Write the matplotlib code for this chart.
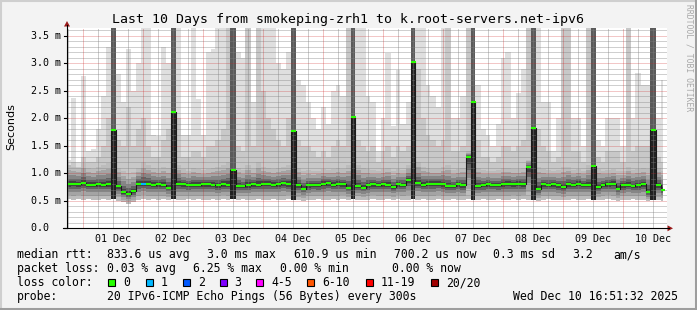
import numpy as np
import matplotlib
matplotlib.use("Agg")
import matplotlib.pyplot as plt
import matplotlib.transforms as mtransforms
from matplotlib.lines import Line2D
from matplotlib.patches import Rectangle, Polygon

W, H = 697, 310

# one smoke column every 2 h, first one at 30 Nov 18:00 (hours from 01 Dec 00:00)
first_hour = -6
step_hours = 2

# median rtt per column (ms)
median = [0.80, 0.81, 0.80, 0.82, 0.79, 0.79, 0.80, 0.79, 0.80, 1.79,
          0.76, 0.66, 0.62, 0.67, 0.81, 0.81, 0.81, 0.79, 0.80, 0.79,
          0.74, 2.11, 0.81, 0.80, 0.78, 0.79, 0.79, 0.80, 0.80, 0.79,
          0.78, 0.80, 0.79, 1.06, 0.77, 0.76, 0.78, 0.80, 0.79, 0.81,
          0.81, 0.79, 0.80, 0.82, 0.80, 1.76, 0.78, 0.72, 0.78, 0.79,
          0.78, 0.81, 0.82, 0.79, 0.81, 0.80, 0.74, 2.02, 0.77, 0.74,
          0.78, 0.80, 0.79, 0.80, 0.79, 0.75, 0.80, 0.79, 0.87, 3.03,
          0.82, 0.79, 0.81, 0.81, 0.81, 0.80, 0.76, 0.76, 0.80, 0.78,
          1.29, 2.29, 0.77, 0.78, 0.80, 0.79, 0.78, 0.80, 0.81, 0.80,
          0.81, 0.80, 1.11, 1.82, 0.71, 0.80, 0.79, 0.80, 0.78, 0.75,
          0.80, 0.79, 0.81, 0.79, 0.79, 1.13, 0.75, 0.79, 0.80, 0.81,
          0.72, 0.78, 0.79, 0.77, 0.78, 0.80, 0.66, 1.79, 0.78, 0.70]

# fastest ping (bottom of the smoke)
low = [0.53, 0.52, 0.53, 0.52, 0.53, 0.52, 0.52, 0.53, 0.52, 0.53,
       0.50, 0.47, 0.45, 0.47, 0.52, 0.53, 0.52, 0.53, 0.52, 0.53,
       0.52, 0.53, 0.52, 0.52, 0.53, 0.52, 0.53, 0.52, 0.52, 0.53,
       0.52, 0.53, 0.52, 0.53, 0.52, 0.53, 0.52, 0.52, 0.53, 0.52,
       0.52, 0.53, 0.52, 0.52, 0.53, 0.52, 0.51, 0.50, 0.52, 0.52,
       0.53, 0.52, 0.52, 0.53, 0.52, 0.53, 0.52, 0.53, 0.52, 0.51,
       0.52, 0.53, 0.52, 0.52, 0.53, 0.52, 0.53, 0.52, 0.52, 0.53,
       0.52, 0.53, 0.52, 0.52, 0.53, 0.52, 0.52, 0.53, 0.52, 0.52,
       0.53, 0.52, 0.52, 0.53, 0.52, 0.52, 0.53, 0.52, 0.52, 0.53,
       0.52, 0.53, 0.52, 0.51, 0.50, 0.52, 0.53, 0.52, 0.52, 0.51,
       0.52, 0.53, 0.52, 0.52, 0.53, 0.52, 0.51, 0.52, 0.53, 0.52,
       0.50, 0.52, 0.52, 0.53, 0.52, 0.52, 0.49, 0.52, 0.51, 0.50]

# top of the dense smoke (above the graph top where most pings were slow)
band = [1.15, 1.12, 1.10, 1.18, 1.10, 1.08, 1.12, 1.15, 1.18, 4.00,
        1.10, 1.05, 1.00, 1.02, 1.10, 1.20, 1.15, 1.10, 1.08, 1.12,
        1.10, 4.00, 1.15, 1.08, 1.05, 1.10, 1.08, 1.06, 1.08, 1.10,
        1.12, 1.15, 1.20, 4.00, 1.10, 1.06, 1.15, 1.08, 1.20, 1.12,
        1.10, 1.08, 1.10, 1.12, 1.15, 4.00, 1.10, 1.05, 1.06, 1.04,
        1.05, 1.08, 1.06, 1.08, 1.10, 1.08, 1.15, 4.00, 1.15, 1.10,
        1.08, 1.06, 1.05, 1.08, 1.10, 1.05, 1.08, 1.06, 1.15, 4.00,
        1.20, 1.12, 1.10, 1.08, 1.08, 1.12, 1.15, 1.06, 1.08, 1.10,
        1.40, 4.00, 1.10, 1.06, 1.05, 1.05, 1.06, 1.10, 1.10, 1.08,
        1.08, 1.10, 1.25, 4.00, 1.12, 1.08, 1.06, 1.05, 1.06, 1.12,
        1.12, 1.06, 1.08, 1.05, 1.15, 4.00, 1.08, 1.05, 1.06, 1.08,
        1.05, 1.04, 1.12, 1.06, 1.08, 1.10, 1.08, 4.00, 1.10, 1.05]

# second slowest ping
high2 = [1.15, 1.20, 1.12, 1.30, 1.20, 1.20, 1.30, 1.50, 2.00, 4.00,
         1.60, 1.50, 2.20, 1.50, 1.80, 2.00, 1.50, 1.30, 1.30, 1.60,
         1.80, 4.00, 2.00, 1.30, 1.30, 1.40, 1.40, 1.30, 1.50, 1.50,
         1.60, 1.80, 3.70, 4.00, 1.50, 1.40, 3.70, 1.50, 3.70, 2.50,
         2.00, 1.80, 1.60, 1.50, 2.00, 4.00, 1.60, 1.50, 1.50, 1.40,
         1.30, 1.40, 1.30, 1.50, 1.60, 1.50, 3.70, 4.00, 1.60, 1.50,
         1.40, 1.50, 1.20, 1.40, 1.50, 1.30, 1.50, 1.40, 1.50, 4.00,
         2.90, 2.00, 1.70, 1.60, 1.50, 1.60, 3.70, 1.40, 1.40, 1.50,
         3.70, 4.00, 1.60, 1.30, 1.30, 1.20, 1.30, 1.50, 1.50, 1.40,
         1.50, 1.60, 3.70, 4.00, 1.80, 1.50, 1.40, 1.20, 1.30, 3.70,
         3.70, 1.40, 1.40, 1.20, 3.70, 4.00, 1.30, 1.20, 1.40, 1.40,
         1.40, 1.20, 3.70, 1.40, 1.50, 1.50, 1.50, 4.00, 1.30, 1.20]

# slowest ping
high = [1.25, 2.37, 1.20, 2.77, 1.40, 1.45, 1.80, 2.40, 3.30, 4.00,
        2.80, 2.30, 3.25, 2.50, 3.00, 3.70, 3.70, 1.70, 1.67, 3.30,
        3.00, 4.00, 3.70, 1.70, 1.70, 3.70, 2.35, 1.70, 3.20, 3.25,
        3.70, 3.70, 3.70, 4.00, 3.20, 3.10, 3.70, 2.30, 3.70, 3.70,
        3.70, 3.70, 3.00, 2.90, 3.20, 4.00, 2.70, 2.60, 2.30, 2.00,
        1.80, 2.20, 1.90, 2.50, 2.60, 2.40, 4.00, 4.00, 3.70, 3.70,
        2.40, 2.30, 1.40, 2.00, 3.18, 1.85, 2.88, 1.90, 2.30, 4.00,
        3.70, 3.70, 2.60, 2.40, 2.20, 3.70, 3.70, 2.00, 2.00, 2.40,
        4.00, 4.00, 2.60, 1.80, 1.70, 1.50, 1.90, 3.10, 3.20, 2.00,
        2.46, 2.90, 4.00, 4.00, 3.70, 2.30, 2.30, 1.40, 2.00, 3.70,
        3.70, 2.00, 2.00, 1.50, 3.70, 4.00, 1.60, 1.50, 2.00, 2.00,
        2.00, 1.50, 3.70, 2.00, 2.82, 2.60, 2.60, 4.00, 2.00, 2.70]

# lost pings per column (all others 0)
lost = {15: 1}

day_labels = ["01 Dec", "02 Dec", "03 Dec", "04 Dec", "05 Dec",
              "06 Dec", "07 Dec", "08 Dec", "09 Dec", "10 Dec"]
y_ticks = [0.0, 0.5, 1.0, 1.5, 2.0, 2.5, 3.0, 3.5]
y_tick_labels = ["0.0  ", "0.5 m", "1.0 m", "1.5 m", "2.0 m", "2.5 m", "3.0 m", "3.5 m"]

loss_names = ["0", "1", "2", "3", "4-5", "6-10", "11-19", "20/20"]
loss_colors = ["#26ff00", "#00b8ff", "#0059ff", "#7e00ff",
               "#ff00ff", "#ff5500", "#ff0000", "#a10000"]

mono = "DejaVu Sans Mono"
top = 3.64
t0 = -6.4 / 24   # left edge of the graph in days from 01 Dec

med = np.array(median)
lo = np.array(low)
bd = np.array(band)
h2 = np.array(high2)
h1 = np.array(high)
t = (first_hour + step_hours * np.arange(len(med))) / 24.0
spike = bd > top


def px(x, y):
    return x / W, 1 - y / H


def loss_color(n):
    if n <= 3:
        return loss_colors[n]
    if n <= 5:
        return loss_colors[4]
    if n <= 10:
        return loss_colors[5]
    if n < 20:
        return loss_colors[6]
    return loss_colors[7]


fig = plt.figure(figsize=(W / 100, H / 100), dpi=100, facecolor="#f3f3f3")
ax = fig.add_axes([67 / W, 1 - 228.3 / H, 600 / W, 200.3 / H])
ax.set_facecolor("white")
ax.set_xlim(t0, t0 + 10)
ax.set_ylim(0, top)
for s in ax.spines.values():
    s.set_visible(False)
ax.set_xticks([])
ax.set_yticks([])

# smoke
ax.fill_between(t, lo, h1, step="mid", color="#dfdfdf", lw=0, zorder=1)
ax.fill_between(t, lo, h2, step="mid", color="#c8c8c8", lw=0, zorder=1)
for f, c in [(1.0, "#bcbcbc"), (0.75, "#a4a4a4"), (0.5, "#868686"),
             (0.3, "#626262"), (0.15, "#424242")]:
    ax.fill_between(t, med - (med - lo) * f, med + (bd - med) * f,
                    step="mid", color=c, lw=0, zorder=1)
ax.fill_between(t, lo, np.where(spike, 4.0, lo), step="mid", color="#5a5a5a", lw=0, zorder=1)
ax.fill_between(t, lo, np.where(spike, med, lo), step="mid", color="#222222", lw=0, zorder=1)

# grid, dotted like rrdtool
minor_x = [d / 4 for d in range(-1, 40) if d % 4 != 0]
minor_y = [v / 10 for v in range(1, 37) if v % 5 != 0]
for x in minor_x:
    ax.axvline(x, color="#808080", alpha=0.8, lw=0.72, ls=(0, (1, 1)), zorder=2)
for y in minor_y:
    ax.axhline(y, color="#808080", alpha=0.75, lw=0.72, ls=(0, (1, 1)), zorder=2)
for x in range(10):
    ax.axvline(x, color="#cc2222", alpha=0.55, lw=0.72, ls=(0, (1, 1)), zorder=2)
for y in [0.5, 1.0, 1.5, 2.0, 2.5, 3.0, 3.5]:
    ax.axhline(y, color="#cc2222", alpha=0.5, lw=0.72, ls=(0, (1, 1)), zorder=2)

# median line
ax.plot(t, med, drawstyle="steps-mid", color="#1a1a1a", lw=0.8, zorder=3)
cols = [loss_color(lost.get(i, 0)) for i in range(len(med))]
ax.hlines(med, t - step_hours / 48, t + step_hours / 48, colors=cols, lw=1.5, zorder=4)

# axes with arrows
fig.add_artist(Line2D(*zip(px(67, 228.3), px(67, 25)), color="black", lw=0.8))
fig.add_artist(Line2D(*zip(px(63, 228.3), px(669, 228.3)), color="black", lw=0.8))
fig.add_artist(Polygon([px(64, 26.5), px(70, 26.5), px(67, 21)], closed=True,
                       transform=fig.transFigure, color="#9b1b1b", lw=0))
fig.add_artist(Polygon([px(667.5, 225.3), px(667.5, 231.3), px(673, 228.3)], closed=True,
                       transform=fig.transFigure, color="#9b1b1b", lw=0))

# y ticks
ytr = mtransforms.blended_transform_factory(fig.transFigure, ax.transData)
for v, lab in zip(y_ticks, y_tick_labels):
    fig.text(30.7 / W, v, lab, transform=ytr, family=mono, fontsize=7.2, va="center", ha="left")
    fig.add_artist(Line2D([63.5 / W, 67 / W], [v, v], transform=ytr, color="black", lw=0.8))

# x labels, centred on noon
xtr = mtransforms.blended_transform_factory(ax.transData, fig.transFigure)
for d, lab in enumerate(day_labels):
    fig.text(d + 0.5, 1 - 241.7 / H, lab, transform=xtr, family=mono, fontsize=7.2,
             ha="center", va="baseline")

fig.text(*px(347.7, 23.5), "Last 10 Days from smokeping-zrh1 to k.root-servers.net-ipv6",
         family=mono, fontsize=9.55, ha="center", va="baseline")
fig.text(*px(11, 127), "Seconds", rotation=90, fontsize=8, ha="center", va="center")
fig.text(*px(688.5, 58), "RRDTOOL / TOBI OETIKER", rotation=270, family=mono,
         fontsize=5.8, color="#a8a8a8", ha="center", va="center")

# legend
fs = 8.3
rows = [
    (258, [("median rtt:", 16.7), ("833.6 us avg", 107.3), ("3.0 ms max", 207.3),
           ("610.9 us min", 293.5), ("700.2 us now", 393.5), ("0.3 ms sd", 493.3),
           ("3.2", 572.5), ("am/s", 613)]),
    (272, [("packet loss:", 16.7), ("0.03 % avg", 107.3), ("6.25 % max", 193.5),
           ("0.00 % min", 279.7), ("0.00 % now", 391.7)]),
    (286, [("loss color:", 16.7)]),
    (300, [("probe:", 16.7), ("20 IPv6-ICMP Echo Pings (56 Bytes) every 300s", 107.3),
           ("Wed Dec 10 16:51:32 2025", 513)]),
]
for y, items in rows:
    for s, x in items:
        fig.text(*px(x, y), s, family=mono, fontsize=fs, va="baseline", ha="left")

box_x = [108, 146, 183, 219.5, 256, 307, 365.5, 431]
for bx, name, c in zip(box_x, loss_names, loss_colors):
    fig.add_artist(Rectangle(px(bx, 286), 7 / W, 7 / H, transform=fig.transFigure,
                             facecolor=c, edgecolor="black", lw=0.8))
    fig.text(*px(bx + 15, 286), name, family=mono, fontsize=fs, va="baseline", ha="left")

# 3d frame
fig.add_artist(Line2D([0, 1], [1 - 1 / H, 1 - 1 / H], color="#cfcfcf", lw=1.5))
fig.add_artist(Line2D([1 / W, 1 / W], [0, 1], color="#cfcfcf", lw=1.5))
fig.add_artist(Line2D([0, 1], [1.5 / H, 1.5 / H], color="#9e9e9e", lw=2.2))
fig.add_artist(Line2D([1 - 1.5 / W, 1 - 1.5 / W], [0, 1], color="#9e9e9e", lw=2.2))

fig.savefig("out.png", dpi=100, facecolor=fig.get_facecolor())
